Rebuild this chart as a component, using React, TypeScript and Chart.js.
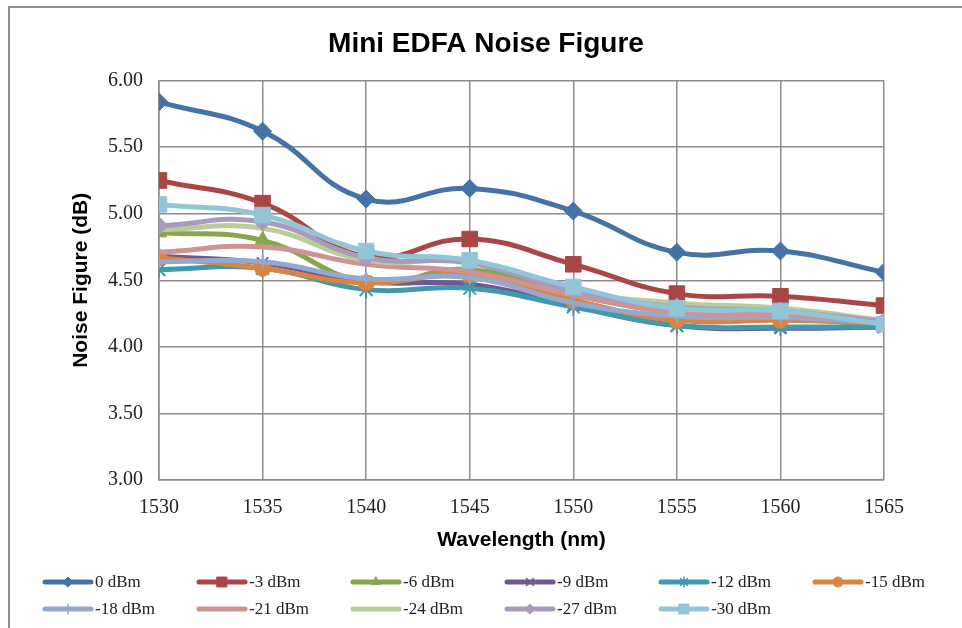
import React, { useEffect, useRef } from 'react';
import { Chart, registerables } from 'chart.js';
import { drawPoint } from 'chart.js/helpers';

Chart.register(...registerables);

const chartTitle = 'Mini EDFA Noise Figure';
const xTitle = 'Wavelength (nm)';
const yTitle = 'Noise Figure (dB)';

const wavelengths = [1530, 1535, 1540, 1545, 1550, 1555, 1560, 1565];
const seriesNames = ['0 dBm', '-3 dBm', '-6 dBm', '-9 dBm', '-12 dBm', '-15 dBm', '-18 dBm', '-21 dBm', '-24 dBm', '-27 dBm', '-30 dBm'];

const nf0 = [5.84, 5.62, 5.11, 5.19, 5.02, 4.71, 4.72, 4.56];
const nf3 = [5.25, 5.08, 4.68, 4.81, 4.62, 4.40, 4.38, 4.31];
const nf6 = [4.86, 4.80, 4.49, 4.58, 4.39, 4.26, 4.23, 4.15];
const nf9 = [4.68, 4.63, 4.49, 4.47, 4.31, 4.16, 4.14, 4.15];
const nf12 = [4.58, 4.59, 4.43, 4.44, 4.30, 4.16, 4.15, 4.15];
const nf15 = [4.67, 4.59, 4.48, 4.54, 4.35, 4.20, 4.20, 4.18];
const nf18 = [4.64, 4.64, 4.51, 4.52, 4.33, 4.23, 4.22, 4.18];
const nf21 = [4.71, 4.75, 4.62, 4.56, 4.39, 4.26, 4.24, 4.20];
const nf24 = [4.88, 4.89, 4.65, 4.64, 4.42, 4.33, 4.29, 4.20];
const nf27 = [4.91, 4.94, 4.67, 4.63, 4.42, 4.30, 4.27, 4.19];
const nf30 = [5.07, 4.99, 4.72, 4.65, 4.45, 4.29, 4.27, 4.17];

const seriesValues = [nf0, nf3, nf6, nf9, nf12, nf15, nf18, nf21, nf24, nf27, nf30];
const seriesColors = ['#4572A7', '#AA4643', '#89A54E', '#71588F', '#4198AF', '#DB843D', '#93A9CF', '#D19392', '#B9CD96', '#A99BBD', '#92C5D8'];
const seriesMarkers = ['rectRot', 'rect', 'triangle', 'crossRot', 'star', 'circle', 'cross', 'circle', 'circle', 'rectRot', 'rect'];
const markerRadius = [9, 11, 9, 8, 9, 8, 7, 0, 0, 9, 11];
const legendRadius = [5, 7, 5, 5, 5, 5, 5, 0, 0, 5, 7];

const yTicks = [3, 3.5, 4, 4.5, 5, 5.5, 6];

const SANS = "'Liberation Sans', Arial, sans-serif";
const SERIF = "'Liberation Serif', 'Times New Roman', serif";

const isStroke = (s: string) => s === 'crossRot' || s === 'star' || s === 'cross';

const frameAndLegend = {
  id: 'frameAndLegend',
  afterDraw(chart: any) {
    const ctx = chart.ctx;
    ctx.save();
    // outer frame
    ctx.strokeStyle = '#8f8f8f';
    ctx.lineWidth = 2;
    ctx.beginPath();
    ctx.moveTo(9, 628);
    ctx.lineTo(9, 7);
    ctx.lineTo(962, 7);
    ctx.stroke();
    // legend
    chart.data.datasets.forEach((ds: any, i: number) => {
      const col = i % 6;
      const row = Math.floor(i / 6);
      const x0 = 45 + col * 154;
      const y = 582 + row * 27;
      ctx.strokeStyle = ds.borderColor;
      ctx.lineWidth = 5;
      ctx.lineCap = 'round';
      ctx.beginPath();
      ctx.moveTo(x0, y);
      ctx.lineTo(x0 + 46, y);
      ctx.stroke();
      if (legendRadius[i] > 0) {
        ctx.fillStyle = ds.borderColor;
        ctx.strokeStyle = ds.borderColor;
        ctx.lineWidth = isStroke(seriesMarkers[i]) ? 1.5 : 1;
        drawPoint(ctx, { pointStyle: seriesMarkers[i], radius: legendRadius[i], rotation: 0, borderWidth: ctx.lineWidth } as any, x0 + 23, y);
      }
      ctx.fillStyle = '#222';
      ctx.font = `17px ${SERIF}`;
      ctx.textBaseline = 'middle';
      ctx.textAlign = 'left';
      ctx.fillText(seriesNames[i], x0 + 50, y + 1);
    });
    ctx.restore();
  },
};

export default function App() {
  const ref = useRef<HTMLCanvasElement>(null);
  useEffect(() => {
    if (!ref.current) return;
    const datasets = seriesValues.map((vals, i) => ({
      label: seriesNames[i],
      data: vals.map((v, j) => ({ x: wavelengths[j], y: v })),
      borderColor: seriesColors[i],
      backgroundColor: seriesColors[i],
      borderWidth: 5,
      tension: 0.45,
      pointStyle: seriesMarkers[i],
      pointRadius: markerRadius[i],
      pointBorderWidth: isStroke(seriesMarkers[i]) ? 2 : 1,
      pointBorderColor: seriesColors[i],
      pointBackgroundColor: seriesColors[i],
      order: 10 - i,
      borderJoinStyle: 'round',
      borderCapStyle: 'round',
    }));
    const chart = new Chart(ref.current, {
      type: 'line',
      data: { datasets },
      plugins: [frameAndLegend],
      options: {
        responsive: false,
        animation: false,
        layout: { padding: { left: 10, right: 0, top: 0, bottom: 0 } },
        plugins: {
          legend: { display: false },
          tooltip: { enabled: false },
          title: {
            display: true,
            text: chartTitle,
            color: '#000',
            font: { family: SANS, size: 28, weight: 'bold' },
            padding: { top: 27, bottom: 20 },
          },
        },
        scales: {
          x: {
            type: 'linear',
            min: 1530,
            max: 1565,
            afterFit: (s: any) => { s.height = 148; },
            ticks: {
              stepSize: 5,
              padding: 16,
              color: '#222',
              font: { family: SERIF, size: 20 },
              callback: (v: any) => String(v),
              maxRotation: 0,
            },
            grid: { color: '#8c8c8c', lineWidth: 1.5, drawTicks: false },
            border: { color: '#8c8c8c', width: 1.5 },
            title: {
              display: true,
              text: xTitle,
              color: '#000',
              font: { family: SANS, size: 21, weight: 'bold' },
              padding: { top: 0, bottom: 75 },
            },
          },
          y: {
            type: 'linear',
            min: 3,
            max: 6,
            afterFit: (s: any) => { s.width = 149; },
            afterBuildTicks: (s: any) => { s.ticks = yTicks.map((v) => ({ value: v })); },
            ticks: {
              padding: 16,
              color: '#222',
              font: { family: SERIF, size: 20 },
              callback: (v: any) => Number(v).toFixed(2),
            },
            grid: { color: '#8c8c8c', lineWidth: 1.5, drawTicks: false },
            border: { color: '#8c8c8c', width: 1.5 },
            title: {
              display: true,
              text: yTitle,
              color: '#000',
              font: { family: SANS, size: 21, weight: 'bold' },
              padding: { top: 59, bottom: 0 },
            },
          },
          yRight: {
            type: 'linear',
            position: 'right',
            display: true,
            afterFit: (s: any) => { s.width = 78; },
            ticks: { display: false },
            grid: { display: false, drawTicks: false },
            border: { display: false },
          },
        },
      } as any,
    });
    return () => chart.destroy();
  }, []);
  return (
    <div style={{ position: 'absolute', left: 0, top: 0, width: 962, height: 628, background: '#fff' }}>
      <canvas ref={ref} width={962} height={628} style={{ display: 'block' }} />
    </div>
  );
}
